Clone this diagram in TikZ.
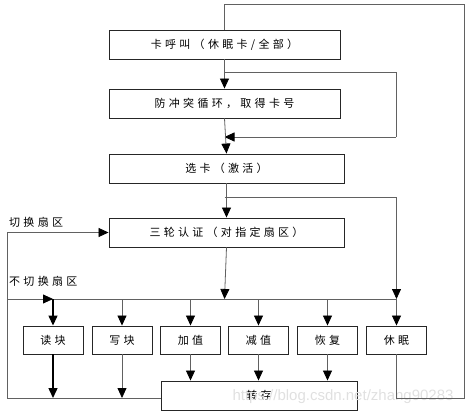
\documentclass[tikz,border=0pt]{standalone}
\usepackage{fontspec}
\newfontfamily\cjk[LetterSpace=30]{Noto Sans CJK SC}
\usetikzlibrary{arrows.meta}
\begin{document}
\begin{tikzpicture}[x=1pt,y=-1pt,
  box/.style={draw=black!85, line width=0.9pt, inner sep=0pt, minimum height=29pt,
    font=\cjk\fontsize{11}{13}\selectfont},
  sbox/.style={box, minimum width=60pt, minimum height=28pt},
  lbl/.style={anchor=west, inner sep=0pt, font=\cjk\fontsize{11}{13}\selectfont},
  ln/.style={draw=black!62, line width=0.8pt},
  tip/.style={-{Triangle[length=10pt,width=9pt,color=black]}},
  arr/.style={ln, tip},
  bold/.style={draw=black, line width=1.4pt, tip}]
\useasboundingbox (0,0) rectangle (469,415);
% main boxes
\node[box, minimum width=231pt] (b1) at (224.5,44.5) {卡呼叫（休眠卡/全部）};
\node[box, minimum width=231pt] (b2) at (224.5,103.5) {防冲突循环，取得卡号};
\node[box, minimum width=235pt] (b3) at (226.5,168.5) {选卡（激活）};
\node[box, minimum width=235pt] (b4) at (226.5,232.5) {三轮认证（对指定扇区）};
% operation boxes
\node[sbox] (rd) at (53,340) {读块};
\node[sbox] (wr) at (122,340) {写块};
\node[sbox] (add) at (190.5,340) {加值};
\node[sbox] (sub) at (258.5,340) {减值};
\node[sbox] (rst) at (327.5,340) {恢复};
\node[sbox] (hlt) at (396.5,340) {休眠};
\node[box, minimum width=196pt] (tr) at (259,395.5) {\raisebox{-3pt}{转存}};
% labels
\node[lbl] (l1) at (9,222) {切换扇区};
\node[lbl] (l2) at (9,281) {不切换扇区};
% watermark
\node[font=\fontspec{Liberation Sans}\fontsize{15}{17}\selectfont, text=black!12, inner sep=0pt] (wm) at (343,397) {https://blog.csdn.net/zhang90283};
% coordinates
\coordinate (tl) at (224.5,4);
\coordinate (tR) at (464,4);
\coordinate (bR) at (464,398);
\coordinate (j1) at (224.5,72);
\coordinate (r1) at (396,72);
\coordinate (r1b) at (396,137);
\coordinate (m1) at (224.5,137);
\coordinate (j2) at (224.5,197);
\coordinate (r2) at (396.5,197);
\coordinate (busR) at (396.5,299);
\coordinate (busM) at (224.5,299);
\coordinate (busL) at (7,299);
\coordinate (busA) at (53,299);
\coordinate (ll) at (7,398);
\coordinate (rdE) at (53,398);
\coordinate (wrE) at (122,398);
% top loop from sleep back to card call
\draw[ln] (hlt.south) |- (bR) -- (tR) -- (tl) -- (b1.north);
% main chain
\draw[arr] (b1.south) -- (b2.north);
\draw[ln] (j1) -- (r1) -- (r1b);
\draw[arr] (r1b) -- (m1);
\draw[arr] (b2.south) -- (b3.north);
\draw[arr] (b3.south) -- (b4.north);
\draw[ln] (j2) -- (r2);
\draw[arr] (r2) -- (busR);
\draw[arr] (b4.south) -- (busM);
% bus
\draw[ln] (busL) -- (busR);
% left loop
\draw[arr] (ll) |- (b4.west);
\draw[ln] (ll) -- (ll -| tr.west);
% down to operations
\draw[bold] (busA) -- (rd.north);
\draw[arr] (wr.north |- busL) -- (wr.north);
\draw[arr] (add.north |- busL) -- (add.north);
\draw[arr] (sub.north |- busL) -- (sub.north);
\draw[arr] (rst.north |- busL) -- (rst.north);
\draw[arr] (hlt.north |- busL) -- (hlt.north);
\draw[arr] (busL) -- (busA);
% down to store
\draw[bold] (rd.south) -- (rdE);
\draw[arr] (wr.south) -- (wrE);
\draw[arr] (add.south) -- (add.south |- tr.north);
\draw[arr] (sub.south) -- (sub.south |- tr.north);
\draw[arr] (rst.south) -- (rst.south |- tr.north);
\end{tikzpicture}
\end{document}
